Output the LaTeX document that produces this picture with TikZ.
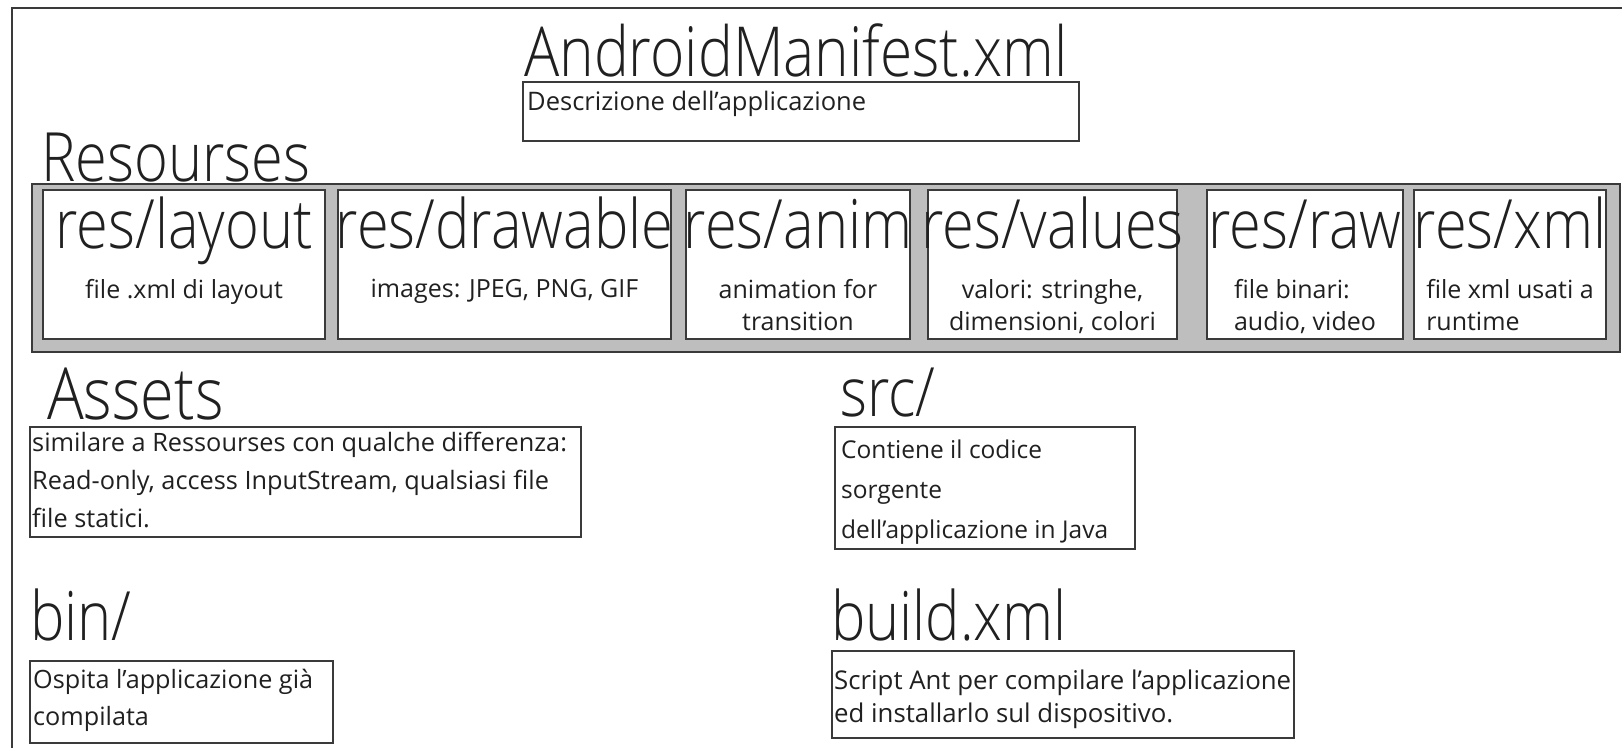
\documentclass[tikz,border=0pt]{standalone}
\usepackage{fontspec}
\setmainfont{Open Sans}
\newfontfamily\thinfont{Open Sans Light}[FakeStretch=0.85]
\usepackage{xcolor}
\definecolor{framegray}{HTML}{3A3A3A}
\definecolor{panelgray}{HTML}{BEBEBE}
\definecolor{inkgray}{HTML}{202020}
\tikzset{
  bigtitle/.style={anchor=base west, inner sep=0, text=inkgray, font=\thinfont\fontsize{68}{68}\selectfont},
  restitle/.style={anchor=base, inner sep=0, text=inkgray, font=\thinfont\fontsize{68}{68}\selectfont},
  textbox/.style={draw=framegray, line width=2pt, fill=white, anchor=north west, inner sep=0},
  boxtext/.style={anchor=north west, inner sep=0, align=left, text=inkgray},
  subtext/.style={anchor=north, inner sep=0, text=inkgray, font=\fontsize{25}{32}\selectfont}
}

\begin{document}
\begin{tikzpicture}[x=1pt,y=-1pt]
\useasboundingbox (0,0) rectangle (1622,747);
\clip (0,0) rectangle (1622,747);
\draw[framegray, line width=2pt] (12,8) rectangle (1660,790);

\node[bigtitle, font=\thinfont\fontsize{69}{69}\selectfont] (manifest-title) at (524,76) {AndroidManifest.xml};
\node[textbox, minimum width=556pt, minimum height=59pt] (manifest) at (522,81) {};
\node[boxtext, font=\fontsize{25.5}{36}\selectfont] (manifest-text) at ([xshift=5pt,yshift=-10pt]manifest.north west) {Descrizione dell'applicazione};

% resources
\node[bigtitle] (res-title) at (41,181) {Resourses};
\node[textbox, fill=panelgray, minimum width=1588pt, minimum height=168pt] (res-panel) at (31,183) {};
\foreach \xa/\xb/\nm/\sub/\al in {42/324/layout/{file .xml di layout}/center,
  337/670/drawable/{images: JPEG, PNG, GIF}/center,
  685/909/anim/{animation for\\transition}/center,
  927/1176/values/{valori: stringhe,\\dimensioni, colori}/center,
  1206/1402/raw/{file binari:\\audio, video}/left,
  1413/1605/xml/{file xml usati a\\runtime}/left}
 {\node[textbox, minimum width=(\xb-\xa)*1pt, minimum height=149pt] (res-\nm) at (\xa,189) {};
  \node[restitle] (res-\nm-title) at ([yshift=-59pt]res-\nm.north) {res/\nm};
  \node[subtext, align=\al] (res-\nm-text) at ([yshift=-90pt]res-\nm.north) {\sub};
 };

% assets
\node[bigtitle, font=\thinfont\fontsize{72}{72}\selectfont] (assets-title) at (47,419) {Assets};
\node[textbox, minimum width=551pt, minimum height=110pt] (assets) at (29,426) {};
\node[boxtext, font=\fontsize{25.3}{38}\selectfont] (assets-text) at ([xshift=3pt,yshift=-6pt]assets.north west)
  {similare a Ressourses con qualche differenza:\\Read-only, access InputStream, qualsiasi file\\file statici.};

% src
\node[bigtitle] (src-title) at (840,416) {src/};
\node[textbox, minimum width=300pt, minimum height=122pt] (src) at (834,426) {};
\node[boxtext, font=\fontsize{24.5}{40}\selectfont] (src-text) at ([xshift=7pt,yshift=-14pt]src.north west)
  {Contiene il codice\\sorgente\\dell'applicazione in Java};

% bin
\node[bigtitle] (bin-title) at (30,640) {bin/};
\node[textbox, minimum width=303pt, minimum height=82pt] (bin) at (29,660) {};
\node[boxtext, font=\fontsize{25.2}{37}\selectfont] (bin-text) at ([xshift=4pt,yshift=-9pt]bin.north west)
  {Ospita l'applicazione già\\compilata};

% build
\node[bigtitle] (build-title) at (831,640) {build.xml};
\node[textbox, minimum width=462pt, minimum height=87pt] (build) at (831,650) {};
\node[boxtext, font=\fontsize{25.8}{33}\selectfont] (build-text) at ([xshift=3pt,yshift=-20pt]build.north west)
  {Script Ant per compilare l'applicazione\\ed installarlo sul dispositivo.};
\end{tikzpicture}
\end{document}
